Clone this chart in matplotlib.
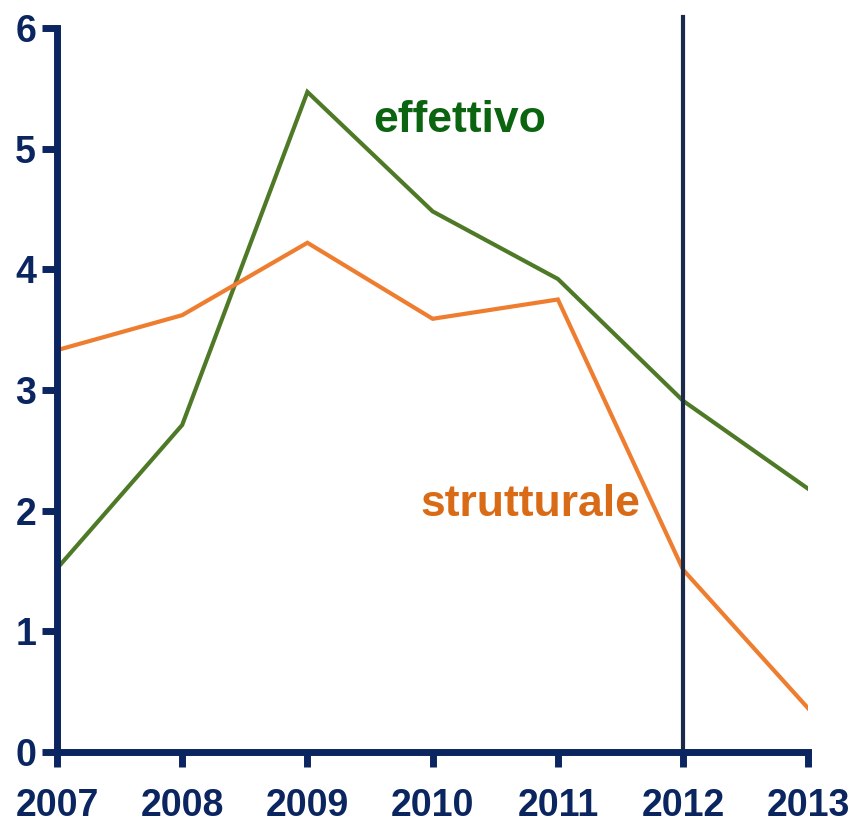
import matplotlib.pyplot as plt

anni = [2007, 2008, 2009, 2010, 2011, 2012, 2013]
effettivo = [1.52, 2.71, 5.47, 4.48, 3.92, 2.91, 2.18]
strutturale = [3.33, 3.62, 4.22, 3.59, 3.75, 1.51, 0.36]
y_ticks = [0, 1, 2, 3, 4, 5, 6]

navy = '#0b2560'
plt.rcParams['font.family'] = 'Liberation Sans'

fig = plt.figure(figsize=(8.5, 8.23), dpi=100)
ax = fig.add_axes([0.067, 0.0863, 0.884, 0.8797])

ax.plot(anni, effettivo, color='#4e7a27', lw=3, solid_joinstyle='miter')
ax.plot(anni, strutturale, color='#ee7d2f', lw=3, solid_joinstyle='miter')
ax.axvline(2012, ymin=0, ymax=1.015, color='#1c2a4a', lw=3, clip_on=False)

# testo in pixel (origine in basso a sinistra)
ax.text(460, 823 - 120, 'effettivo', transform=None, fontsize=32, fontweight='bold',
        color='#0a6410', ha='center', va='center')
ax.text(530, 823 - 505, 'strutturale', transform=None, fontsize=32, fontweight='bold',
        color='#d96b17', ha='center', va='center')

ax.set_xlim(2007, 2013)
ax.set_ylim(0, 6)
ax.set_xticks(anni)
ax.set_yticks(y_ticks)
for s in ['top', 'right']:
    ax.spines[s].set_visible(False)
for s in ['left', 'bottom']:
    ax.spines[s].set_color(navy)
    ax.spines[s].set_linewidth(5)
ax.tick_params(colors=navy, width=5, length=11, labelsize=27, pad=4)
ax.tick_params(axis='x', pad=15)
for lab in ax.get_xticklabels() + ax.get_yticklabels():
    lab.set_fontweight('bold')

fig.savefig('out.png', dpi=100)
